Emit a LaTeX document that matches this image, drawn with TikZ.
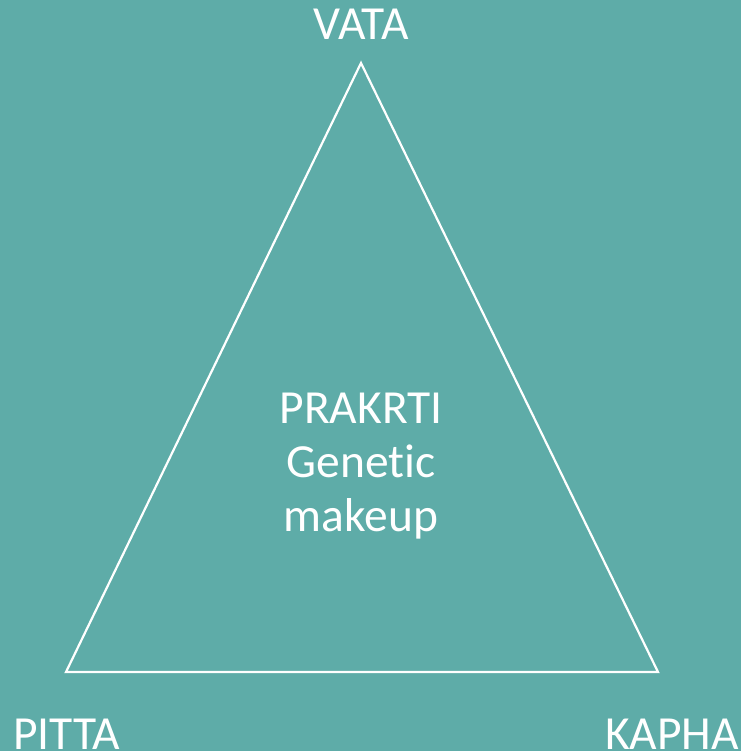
\documentclass[tikz,border=0pt]{standalone}
\usepackage{fontspec}
\setmainfont[Ligatures={NoCommon,NoRare,NoContextual}]{Carlito}
\definecolor{bgteal}{RGB}{94,172,168}
\begin{document}
\begin{tikzpicture}[x=1pt,y=-1pt,
  lbl/.style={text=white,font=\fontsize{47.5}{54}\selectfont,inner sep=0pt},
  tri/.style={draw=white,line width=2.2pt,line join=miter}]
\fill[bgteal] (0,0) rectangle (741,751);
\useasboundingbox (0,0) rectangle (741,751);
\coordinate (apex) at (361,63);
\coordinate (bl) at (66,672);
\coordinate (br) at (658,672);
\draw[tri] (apex) -- (bl) -- (br) -- cycle;
\node[lbl,anchor=base] (vata) at (361,40) {VATA};
\node[lbl,anchor=base west] (pitta) at (13,749) {PITTA};
\node[lbl,anchor=base east] (kapha) at (739,749) {KAPHA};
\node[lbl,anchor=base] (prak) at (361,423) {PRAKRTI};
\node[lbl,anchor=base] (gen) at (361,477) {Genetic};
\node[lbl,anchor=base] (make) at (361,531) {makeup};
\end{tikzpicture}
\end{document}
